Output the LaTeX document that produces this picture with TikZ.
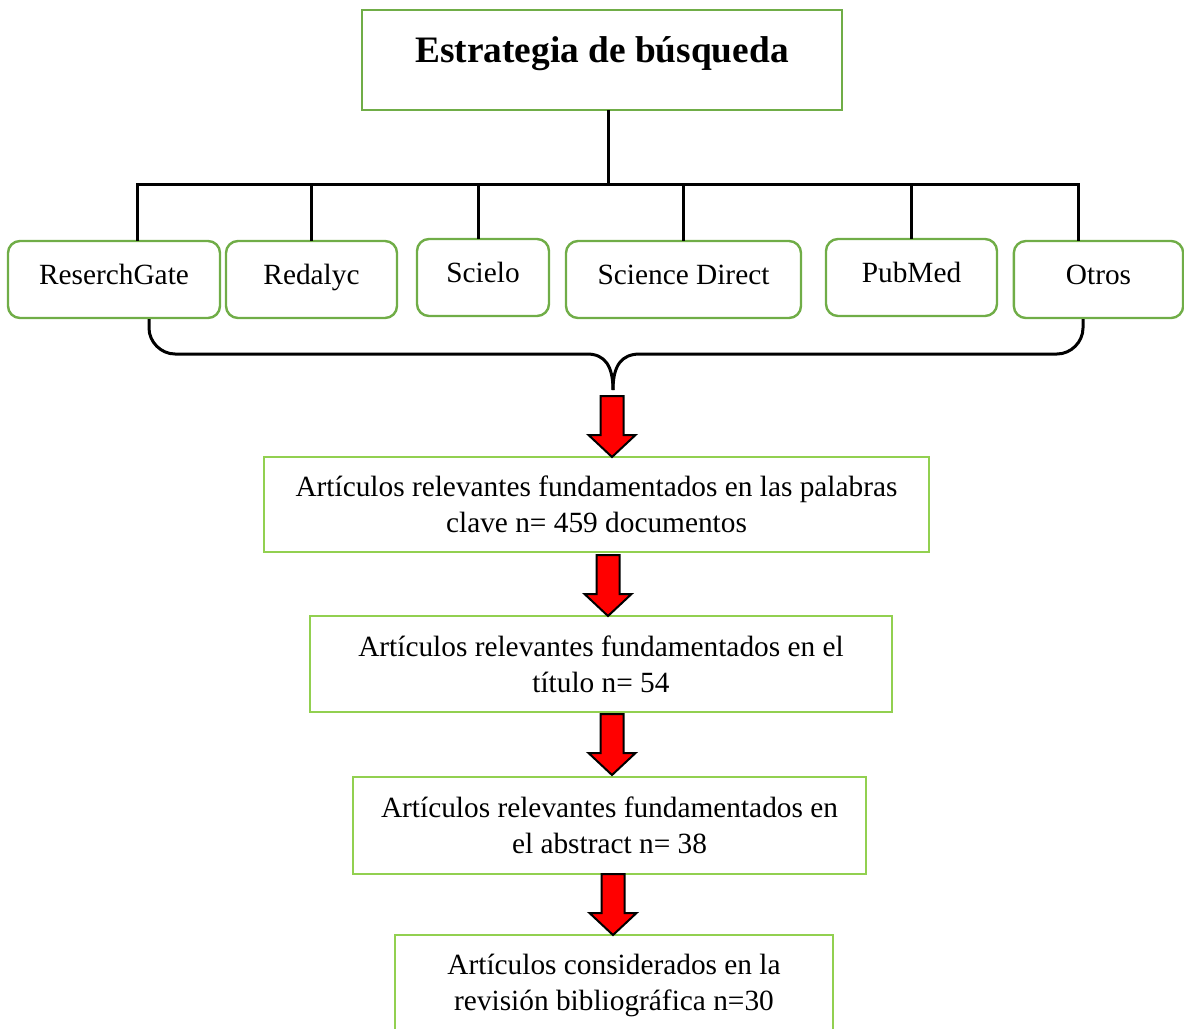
\documentclass[tikz,border=0pt]{standalone}
\usepackage{fontspec}
\setmainfont{Liberation Serif}
\definecolor{dkgreen}{HTML}{70AD47}
\definecolor{ltgreen}{HTML}{92D050}
\tikzset{
  conn/.style={line width=2.25pt, black, line cap=rect},
  srcbox/.style={draw=dkgreen, line width=1.8pt, rounded corners=9pt, minimum height=57.75pt,
    font=\fontsize{22pt}{27pt}\selectfont, text height=15pt, text depth=7.5pt, inner sep=0pt},
  stagebox/.style={draw=ltgreen, line width=1.5pt, align=center, inner sep=0pt,
    font=\fontsize{22pt}{27pt}\selectfont},
  downarrow/.pic={\draw[line width=1.5pt, fill=red, line join=miter]
    (-11.5,0) -- (11.5,0) -- (11.5,39) -- (23.5,39) -- (0,61) -- (-23.5,39) -- (-11.5,39) -- cycle;}
}
\begin{document}
\begin{tikzpicture}[x=0.75pt, y=-0.75pt]
\useasboundingbox (0,0) rectangle (1184,1028);
\clip (0,0) rectangle (1184,1028);

% title
\node[draw=dkgreen, line width=1.75pt, minimum width=360pt, minimum height=75pt, inner sep=0pt,
  font=\fontsize{28pt}{33pt}\selectfont\bfseries, text height=20pt, text depth=17pt]
  (title) at (602,60) {Estrategia de búsqueda};

% sources
\node[srcbox, minimum width=159pt]    (rg)  at (114,279.5)   {ReserchGate};
\node[srcbox, minimum width=128.25pt] (red) at (311.5,279.5) {Redalyc};
\node[srcbox, minimum width=99pt]     (sci) at (483,277.5)   {Scielo};
\node[srcbox, minimum width=176.25pt] (sd)  at (683.5,279.5) {Science Direct};
\node[srcbox, minimum width=128.25pt] (pm)  at (911.5,277.5) {PubMed};
\node[srcbox, minimum width=127pt]    (ot)  at (1098.5,279.5)  {Otros};

% bus
\coordinate (busL) at (137,184);
\coordinate (busR) at (1078,184);
\coordinate (dsci) at (478,184);
\coordinate (dtitle) at (608,184);
\draw[conn] (title.south -| dtitle) -- (dtitle);
\draw[conn] (busL) -- (busR);
\draw[conn] (busL) -- (busL |- rg.north);
\draw[conn] (red.north) -- (red.north |- busL);
\draw[conn] (dsci) -- (dsci |- sci.north);
\draw[conn] (sd.north) -- (sd.north |- busL);
\draw[conn] (pm.north) -- (pm.north |- busL);
\draw[conn] (busR) -- (busR |- ot.north);

% brace
\coordinate (brL) at (149,354);
\coordinate (brR) at (1083,354);
\coordinate (brTip) at (613,390);
\draw[line width=2.25pt, line cap=butt] (rg.south -| brL) -- (149,328) .. controls (149,342) and (161,354) .. (175,354)
  -- (587,354) .. controls (605,354) and (613,366) .. (brTip);
\draw[line width=2.25pt, line cap=butt] (brTip) .. controls (613,366) and (621,354) .. (640,354)
  -- (1057,354) .. controls (1071,354) and (1083,342) .. (1083,328) -- (ot.south -| brR);

% stages
\node[stagebox, minimum width=498.75pt, minimum height=71.25pt] (sa) at (596.5,504.5)
  {Artículos relevantes fundamentados en las palabras\\clave n= 459 documentos};
\node[stagebox, minimum width=436.5pt, minimum height=72pt] (sb) at (601,664)
  {Artículos relevantes fundamentados en el\\título n= 54};
\node[stagebox, minimum width=384.75pt, minimum height=72.75pt] (sc) at (609.5,825.5)
  {Artículos relevantes fundamentados en\\el abstract n= 38};
\node[stagebox, minimum width=328.5pt, minimum height=75pt] (sdd) at (614,985)
  {Artículos considerados en la\\revisión bibliográfica n=30};

% red arrows
\pic at (612,396) {downarrow};
\pic at (608,555) {downarrow};
\pic at (612,714) {downarrow};
\pic at (613,874) {downarrow};
\end{tikzpicture}
\end{document}
